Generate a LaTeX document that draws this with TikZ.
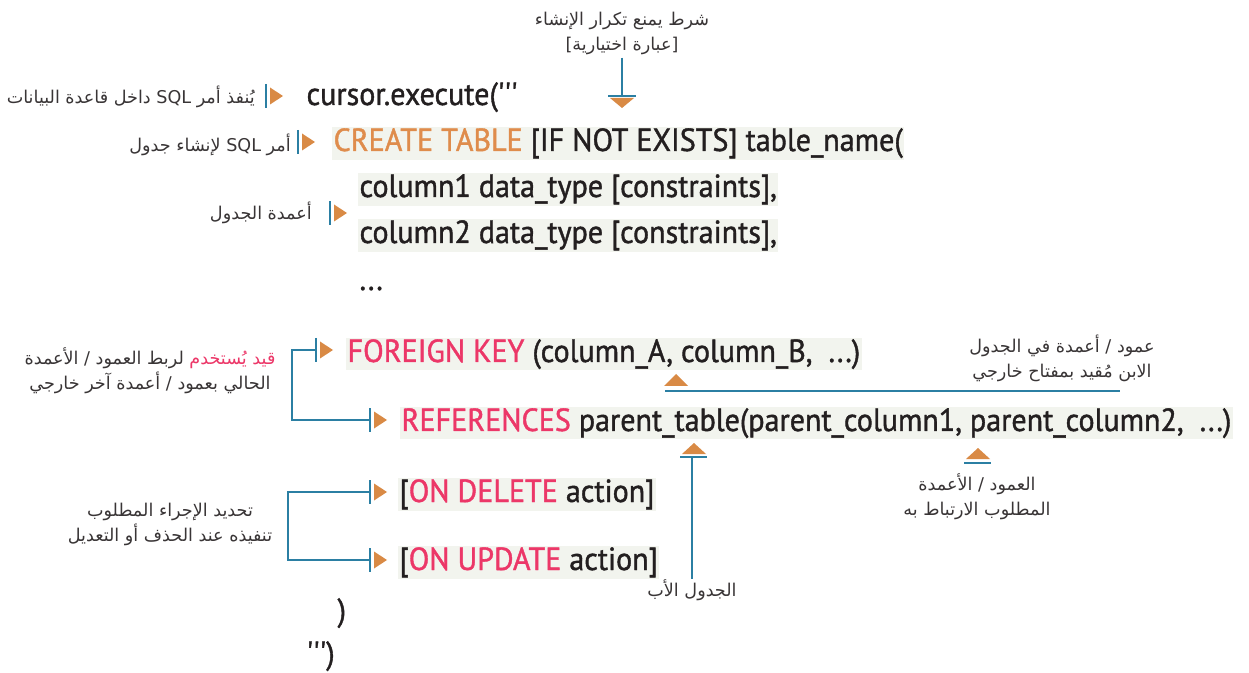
\documentclass[tikz,border=0pt]{standalone}
\usepackage{fontspec}
\usepackage{xcolor}
\usetikzlibrary{positioning}
\TeXXeTstate=1
\newfontfamily\codefont[FakeStretch=0.94,FakeBold=1.2]{PT Sans}
\newfontfamily\arabicfont[Script=Arabic]{DejaVu Sans}
\newfontfamily\notelatin{DejaVu Sans}

\definecolor{kworange}{HTML}{DF8C4C}
\definecolor{tipcol}{HTML}{D98A45}
\definecolor{kwpink}{HTML}{EC3768}
\definecolor{lineblue}{HTML}{2B7FA3}
\definecolor{textdark}{HTML}{231F20}
\definecolor{codebg}{HTML}{F2F4EE}

\tikzset{
  code/.style={font=\codefont\fontsize{24}{28}\selectfont, text=textdark, inner sep=1pt, anchor=base west},
  codehl/.style={code, fill=codebg},
  note/.style={font=\arabicfont\fontsize{13.2}{18.75}\selectfont, text=textdark!90, inner sep=0pt, align=center},
  link/.style={draw=lineblue, line width=1.1pt},
  tip/.style={fill=tipcol},
}

% marker: blue bar with orange tip pointing right
\newcommand{\tabmark}[3]{%
  \coordinate (#1) at (#2,#3);
  \draw[link] (#2,#3-12) -- (#2,#3+12);
  \fill[tip] (#2+4,#3-8.5) -- (#2+17,#3) -- (#2+4,#3+8.5) -- cycle;
}

\begin{document}
\begin{tikzpicture}[x=0.75pt,y=-0.75pt]
  \useasboundingbox (0,0) rectangle (1249,673);

  % code lines
  \node[code] (exec) at (305,105) {cursor.execute('{}'{}'};
  \node[codehl] (create) at (332,151) {\textcolor{kworange}{CREATE TABLE} [IF NOT EXISTS] table\_name(};
  \node[codehl] (col1) at (358,197) {column1 data\_type [constraints],};
  \node[codehl] (col2) at (358,243) {column2 data\_type [constraints],};
  \node[code] (dots) at (358,290) {...};
  \node[codehl] (fk) at (346,362) {\textcolor{kwpink}{FOREIGN KEY} (column\_A, column\_B, \ ...)};
  \node[codehl] (refs) at (400,431) {\textcolor{kwpink}{REFERENCES} parent\_table(parent\_column1, parent\_column2, \ ...)};
  \node[codehl] (ondel) at (398,502) {[\textcolor{kwpink}{ON DELETE} action]};
  \node[codehl] (onupd) at (398,570) {[\textcolor{kwpink}{ON UPDATE} action]};
  \node[code] (close1) at (336,621) {)};
  \node[code] (close2) at (305,664) {'{}'{}')};

  % markers
  \tabmark{m1}{266}{96}
  \tabmark{m2}{298}{142}
  \tabmark{m3}{330}{213}
  \tabmark{mfk}{316}{350}
  \tabmark{mref}{370}{420}
  \tabmark{mdel}{370}{492}
  \tabmark{mupd}{370}{560}

  % brackets
  \draw[link] (mfk) -- ++(-24,0) |- (mref);
  \draw[link] (mdel) -- ++(-82,0) |- (mupd);

  % labels on the left
  \node[note, anchor=east] (l1) at (255,97) {\beginR يُنفذ أمر \beginL SQL\endL{} داخل قاعدة البيانات\endR};
  \node[note, anchor=east] (l2) at (291,145) {\beginR أمر \beginL SQL\endL{} لإنشاء جدول\endR};
  \node[note, anchor=east] (l3) at (312,213) {\beginR أعمدة الجدول\endR};
  \node[note] (lfk) at (150,371) {\beginR لربط العمود / الأعمدة\endR\ \textcolor{kwpink}{\beginR قيد يُستخدم\endR}\\
    \beginR الحالي بعمود / أعمدة آخر خارجي\endR};
  \node[note] (lact) at (170,524) {\beginR تحديد الإجراء المطلوب\endR\\
    \beginR تنفيذه عند الحذف أو التعديل\endR};

  % optional clause
  \node[note] (lopt) at (622,33) {\beginR شرط يمنع تكرار الإنشاء\endR\\
    {\notelatin[}\beginR عبارة اختيارية\endR{\notelatin]}};
  \coordinate (optbar) at (622,96);
  \draw[link] (lopt.south -| optbar) ++(0,3) -- (optbar);
  \draw[link] (608,96) -- (636,96);
  \fill[tip] (610,98) -- (634,98) -- (622,108) -- cycle;

  % child columns
  \fill[tip] (664,386) -- (688,386) -- (676,374) -- cycle;
  \node[note] (lchild) at (1062,358) {\beginR عمود / أعمدة في الجدول\endR\\
    \beginR الابن مُقيد بمفتاح خارجي\endR};
  \coordinate (childl) at (665,391);
  \coordinate (childr) at (1120,391);
  \draw[link] (childl) -- (childr);

  % parent table
  \fill[tip] (682,454) -- (706,454) -- (694,443) -- cycle;
  \draw[link] (680,457) -- (707,457);
  \node[note] (lparent) at (692,590) {\beginR الجدول الأب\endR};
  \draw[link] (692,457) -- (lparent.north);

  % parent columns
  \fill[tip] (966,459) -- (990,459) -- (978,448) -- cycle;
  \draw[link] (964,463) -- (991,463);
  \node[note] (lpcol) at (977,497) {\beginR العمود / الأعمدة\endR\\
    \beginR المطلوب الارتباط به\endR};
\end{tikzpicture}
\end{document}
